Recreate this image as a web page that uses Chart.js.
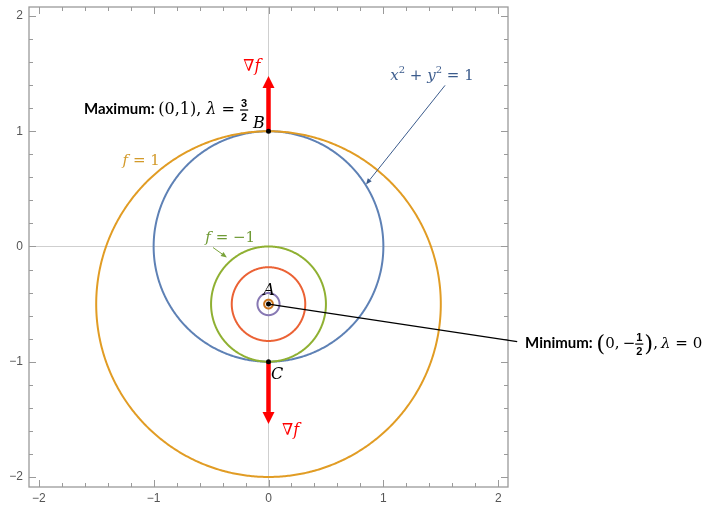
<!DOCTYPE html>
<html>
<head>
<meta charset="utf-8">
<script src="https://cdn.jsdelivr.net/npm/chart.js@4"></script>
<style>
  body { margin: 0; background: #fff; }
  canvas { display: block; }
</style>
</head>
<body>
<canvas id="chart" width="706" height="506"></canvas>
<script>
'use strict';
// level curves (all circles): centre x, centre y, radius, colour
let curveNames  = ['x²+y²=1', 'f=1', 'f=-1', 'f=-1.6', 'f=-1.96', 'f=-2'];
let curveCx     = [0, 0, 0, 0, 0, 0];
let curveCy     = [0, -0.5, -0.5, -0.5, -0.5, -0.5];
let curveR      = [1, 1.5, 0.5, 0.32, 0.096, 0.038];
let curveColors = ['#5e81b5', '#e19c24', '#8fb032', '#eb6235', '#8778b3', '#c9741f'];

// critical points A, B, C
let pointNames = ['A', 'B', 'C'];
let pointX = [0, 0, 0];
let pointY = [-0.5, 1, -1];

// gradient arrows along x = 0
let gradStartY = [1, -1];
let gradEndY   = [1.48, -1.54];

let xTicks = [-2, -1, 0, 1, 2];
let yTicks = [-2, -1, 0, 1, 2];

function fmt(v){
    return v < 0 ? '\u2212' + Math.abs(v) : String(v);
}

function circlePoints(cx, cy, r){
    let pts = [];
    for (let i = 0; i <= 360; i++) {
        let t = i * Math.PI / 180;
        pts.push({x: cx + r * Math.cos(t), y: cy + r * Math.sin(t)});
    }
    return pts;
}

let datasets = [];
for (let i = 0; i < curveNames.length; i++) {
    datasets.push({
        label: curveNames[i],
        data: circlePoints(curveCx[i], curveCy[i], curveR[i]),
        showLine: true,
        borderColor: curveColors[i],
        borderWidth: 2,
        pointRadius: 0,
        tension: 0.01,   // avoids the per-pixel fast path that makes kinks
        order: i === 0 ? 10 : 5
    });
}
datasets.push({
    label: 'points',
    data: pointX.map((x, i) => ({x: x, y: pointY[i]})),
    pointRadius: 2.5,
    pointBackgroundColor: '#000',
    pointBorderColor: '#000',
    pointBorderWidth: 0,
    showLine: false,
    order: 0
});

function arrow(ctx, x1, y1, x2, y2, color, width, headLen, headW){
    let a = Math.atan2(y2 - y1, x2 - x1);
    let bx = x2 - headLen * Math.cos(a), by = y2 - headLen * Math.sin(a);
    ctx.save();
    ctx.strokeStyle = color;
    ctx.fillStyle = color;
    ctx.lineWidth = width;
    ctx.beginPath();
    ctx.moveTo(x1, y1);
    ctx.lineTo(bx, by);
    ctx.stroke();
    ctx.beginPath();
    ctx.moveTo(x2, y2);
    ctx.lineTo(bx + headW / 2 * Math.sin(a), by - headW / 2 * Math.cos(a));
    ctx.lineTo(bx - headW / 2 * Math.sin(a), by + headW / 2 * Math.cos(a));
    ctx.closePath();
    ctx.fill();
    ctx.restore();
}

// draws a run of text pieces starting at x, on baseline y; returns end x
function rich(ctx, x, y, parts, color){
    ctx.save();
    ctx.textBaseline = 'alphabetic';
    ctx.textAlign = 'left';
    ctx.fillStyle = color;
    for (let p of parts) {
        ctx.font = p.font;
        if (p.frac) {
            let w = Math.max(ctx.measureText(p.frac[0]).width, ctx.measureText(p.frac[1]).width) + 2;
            ctx.textAlign = 'center';
            ctx.fillText(p.frac[0], x + w / 2, y - 7);
            ctx.fillText(p.frac[1], x + w / 2, y + 7);
            ctx.fillRect(x, y - 5, w, 1.2);
            ctx.textAlign = 'left';
            x += w + 1;
        } else {
            ctx.fillText(p.t, x, y + (p.dy || 0));
            x += ctx.measureText(p.t).width;
        }
    }
    ctx.restore();
    return x;
}

let serif = '"DejaVu Serif"';
let mathFont = '15px ' + serif;
let mathIt = 'italic 15px ' + serif;
let bigMath = '16px ' + serif;
let bigIt = 'italic 16px ' + serif;
let supFont = '10px ' + serif;
let fracFont = 'bold 11px "Liberation Sans"';
let boldSans = 'bold 15px Lato';

let decor = {
    id: 'decor',
    beforeDatasetsDraw(chart){
        let ctx = chart.ctx, xs = chart.scales.x, ys = chart.scales.y;
        for (let i = 0; i < gradStartY.length; i++) {
            arrow(ctx, xs.getPixelForValue(0), ys.getPixelForValue(gradStartY[i]),
                  xs.getPixelForValue(0), ys.getPixelForValue(gradEndY[i]), '#ff0000', 4.5, 12, 12);
        }
    },
    afterDraw(chart){
        let ctx = chart.ctx, xs = chart.scales.x, ys = chart.scales.y;
        let a = chart.chartArea;
        let X = v => xs.getPixelForValue(v), Y = v => ys.getPixelForValue(v);

        // frame with inward ticks on every side
        ctx.save();
        ctx.strokeStyle = '#9a9a9a';
        ctx.lineWidth = 1.3;
        ctx.strokeRect(a.left, a.top, a.right - a.left, a.bottom - a.top);
        ctx.lineWidth = 1;
        ctx.beginPath();
        for (let k = -10; k <= 10; k++) {
            let v = k / 5;
            let len = k % 5 === 0 ? 7 : 4;
            let px = Math.round(X(v)) + 0.5, py = Math.round(Y(v)) + 0.5;
            ctx.moveTo(px, a.bottom); ctx.lineTo(px, a.bottom - len);
            ctx.moveTo(px, a.top); ctx.lineTo(px, a.top + len);
            ctx.moveTo(a.left, py); ctx.lineTo(a.left + len, py);
            ctx.moveTo(a.right, py); ctx.lineTo(a.right - len, py);
        }
        ctx.stroke();
        ctx.restore();

        // pointer arrows
        arrow(ctx, X(1.537), Y(1.398), X(0.849), Y(0.538), '#3b5b8c', 1, 6, 5);
        arrow(ctx, X(-0.483), Y(-0.009), X(-0.362), Y(-0.095), '#7aa33a', 1, 6, 5);
        // line from A to the minimum label
        ctx.save();
        ctx.strokeStyle = '#000';
        ctx.lineWidth = 1.3;
        ctx.beginPath();
        ctx.moveTo(X(pointX[0]), Y(pointY[0]));
        ctx.lineTo(X(2.165), Y(-0.825));
        ctx.stroke();
        ctx.restore();

        // gradient labels
        let grad = [{t: '\u2207', font: bigMath}, {t: 'f', font: bigIt}];
        rich(ctx, X(-0.22), Y(1.563) + 5, grad, '#ff0000');
        rich(ctx, X(0.118), Y(-1.589) + 5, grad, '#ff0000');

        // point labels
        ctx.save();
        ctx.textAlign = 'center';
        ctx.textBaseline = 'middle';
        ctx.fillStyle = '#000';
        ctx.font = bigIt;
        ctx.fillText(pointNames[1], X(-0.083), Y(1.068));
        ctx.fillText(pointNames[0], X(0.004), Y(-0.382));
        ctx.fillText(pointNames[2], X(0.074), Y(-1.111));
        ctx.restore();

        // curve labels
        rich(ctx, X(-1.27), Y(0.747) + 5, [
            {t: 'f', font: mathIt}, {t: ' = 1', font: mathFont}], '#d39a2a');
        rich(ctx, X(-0.55), Y(0.078) + 5, [
            {t: 'f', font: mathIt}, {t: ' = \u22121', font: mathFont}], '#6f9a35');
        rich(ctx, X(1.06), Y(1.484) + 5, [
            {t: 'x', font: mathIt}, {t: '2', font: supFont, dy: -7},
            {t: ' + ', font: mathFont},
            {t: 'y', font: mathIt}, {t: '2', font: supFont, dy: -7},
            {t: ' = 1', font: mathFont}], '#3b5b8c');

        rich(ctx, X(-1.607), Y(1.198) + 6, [
            {t: 'Maximum: ', font: boldSans},
            {t: '(0,1), ', font: bigMath},
            {t: '\u03bb', font: bigIt},
            {t: ' = ', font: bigMath},
            {frac: ['3', '2'], font: fracFont}
        ], '#000');
        rich(ctx, X(2.234), Y(-0.833) + 6, [
            {t: 'Minimum: ', font: boldSans},
            {t: '(', font: '23px ' + serif, dy: 3},
            {t: '0,\u2009\u2212', font: mathFont},
            {frac: ['1', '2'], font: fracFont},
            {t: ')', font: '23px ' + serif, dy: 3},
            {t: ',\u2009', font: mathFont},
            {t: '\u03bb', font: mathIt},
            {t: ' = 0', font: mathFont}
        ], '#000');
    }
};

let tickFont = {family: '"Liberation Sans"', size: 12};

function noPad(s){
    s.paddingTop = 0; s.paddingBottom = 0;
    s.paddingLeft = 0; s.paddingRight = 0;
}

new Chart(document.getElementById('chart'), {
    type: 'scatter',
    data: {datasets: datasets},
    options: {
        responsive: false,
        animation: false,
        devicePixelRatio: 1,
        layout: {padding: {left: 0, top: 7, right: 198, bottom: 0}},
        plugins: {legend: {display: false}, tooltip: {enabled: false}},
        scales: {
            x: {
                type: 'linear',
                min: -2.085, max: 2.085,
                afterBuildTicks: s => { s.ticks = xTicks.map(v => ({value: v})); },
                afterFit: s => { s.height = 19; noPad(s); },
                border: {display: false},
                grid: {drawTicks: false, lineWidth: 1,
                       color: c => (c.tick && c.tick.value === 0) ? '#cfcfcf' : 'rgba(0,0,0,0)'},
                ticks: {padding: 4, color: '#555', font: tickFont, callback: fmt, maxRotation: 0}
            },
            y: {
                type: 'linear',
                min: -2.087, max: 2.078,
                afterBuildTicks: s => { s.ticks = yTicks.map(v => ({value: v})); },
                afterFit: s => { s.width = 29; noPad(s); },
                border: {display: false},
                grid: {drawTicks: false, lineWidth: 1,
                       color: c => (c.tick && c.tick.value === 0) ? '#cfcfcf' : 'rgba(0,0,0,0)'},
                ticks: {padding: 6, color: '#555', font: tickFont, callback: fmt}
            }
        }
    },
    plugins: [decor]
});
</script>
</body>
</html>
